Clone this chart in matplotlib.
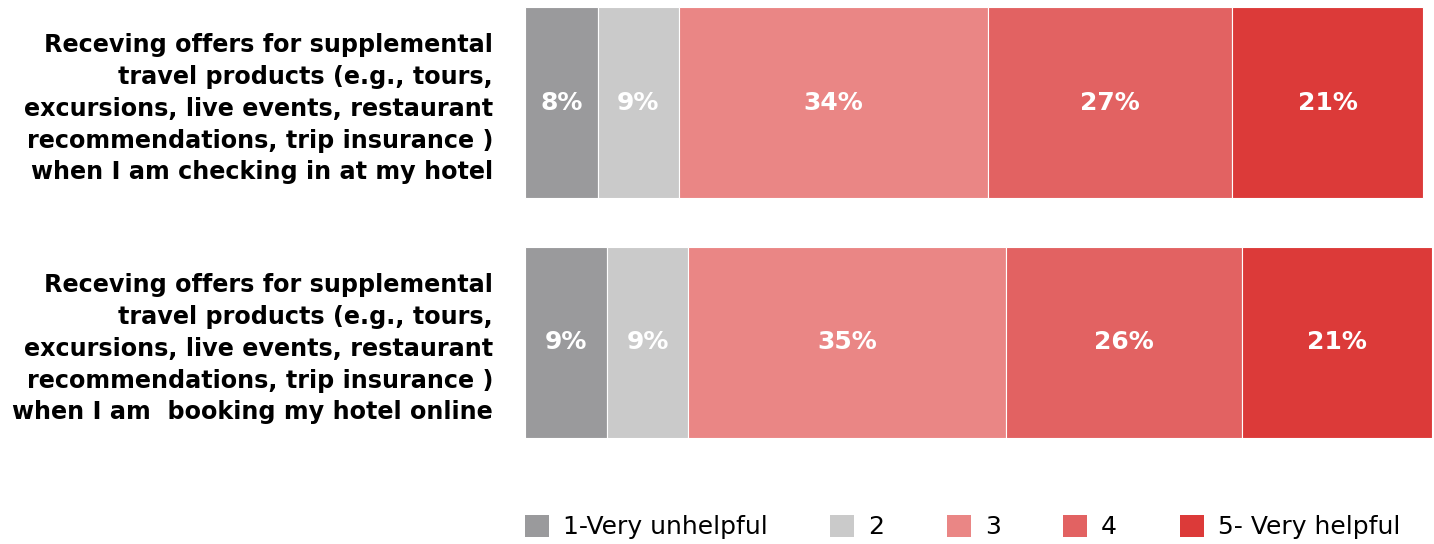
import matplotlib.pyplot as plt
from matplotlib.patches import Patch

questions = [
    "Receving offers for supplemental\ntravel products (e.g., tours,\nexcursions, live events, restaurant\nrecommendations, trip insurance )\nwhen I am checking in at my hotel",
    "Receving offers for supplemental\ntravel products (e.g., tours,\nexcursions, live events, restaurant\nrecommendations, trip insurance )\nwhen I am  booking my hotel online",
]
ratings = ["1-Very unhelpful", "2", "3", "4", "5- Very helpful"]
checking_in = [8, 9, 34, 27, 21]
booking_online = [9, 9, 35, 26, 21]
colors = ["#9a9a9c", "#cacaca", "#ea8685", "#e26262", "#dc3a39"]

values = [checking_in, booking_online]
ypos = [1, 0]

fig = plt.figure(figsize=(14.34, 5.44), dpi=100)
ax = fig.add_axes([525 / 1434, 1 - 438 / 544, 907 / 1434, 431 / 544])

for y, row in zip(ypos, values):
    left = 0
    for i, v in enumerate(row):
        ax.barh(y, v, left=left, height=0.796, color=colors[i],
                edgecolor="white", linewidth=0.8)
        ax.text(left + v / 2, y, f"{v}%", ha="center", va="center",
                color="white", fontsize=18, fontweight="bold")
        left += v

ax.set_xlim(0, 100)
ax.set_ylim(-0.398, 1.398)
ax.set_yticks(ypos)
ax.set_yticklabels(questions, fontsize=17.2, fontweight="bold",
                   linespacing=1.41)
ax.tick_params(axis="y", length=0, pad=23)
ax.set_xticks([])
for s in ax.spines.values():
    s.set_visible(False)

handles = [Patch(facecolor=c, edgecolor="none") for c in colors]
fig.legend(handles, ratings, loc="center left", bbox_to_anchor=(525 / 1434, 1 - 527 / 544),
           ncol=5, frameon=False, fontsize=18, handlelength=0.96, handleheight=0.96,
           handletextpad=0.56, columnspacing=2.5, borderaxespad=0, borderpad=0)

fig.savefig("out.png", dpi=100)
